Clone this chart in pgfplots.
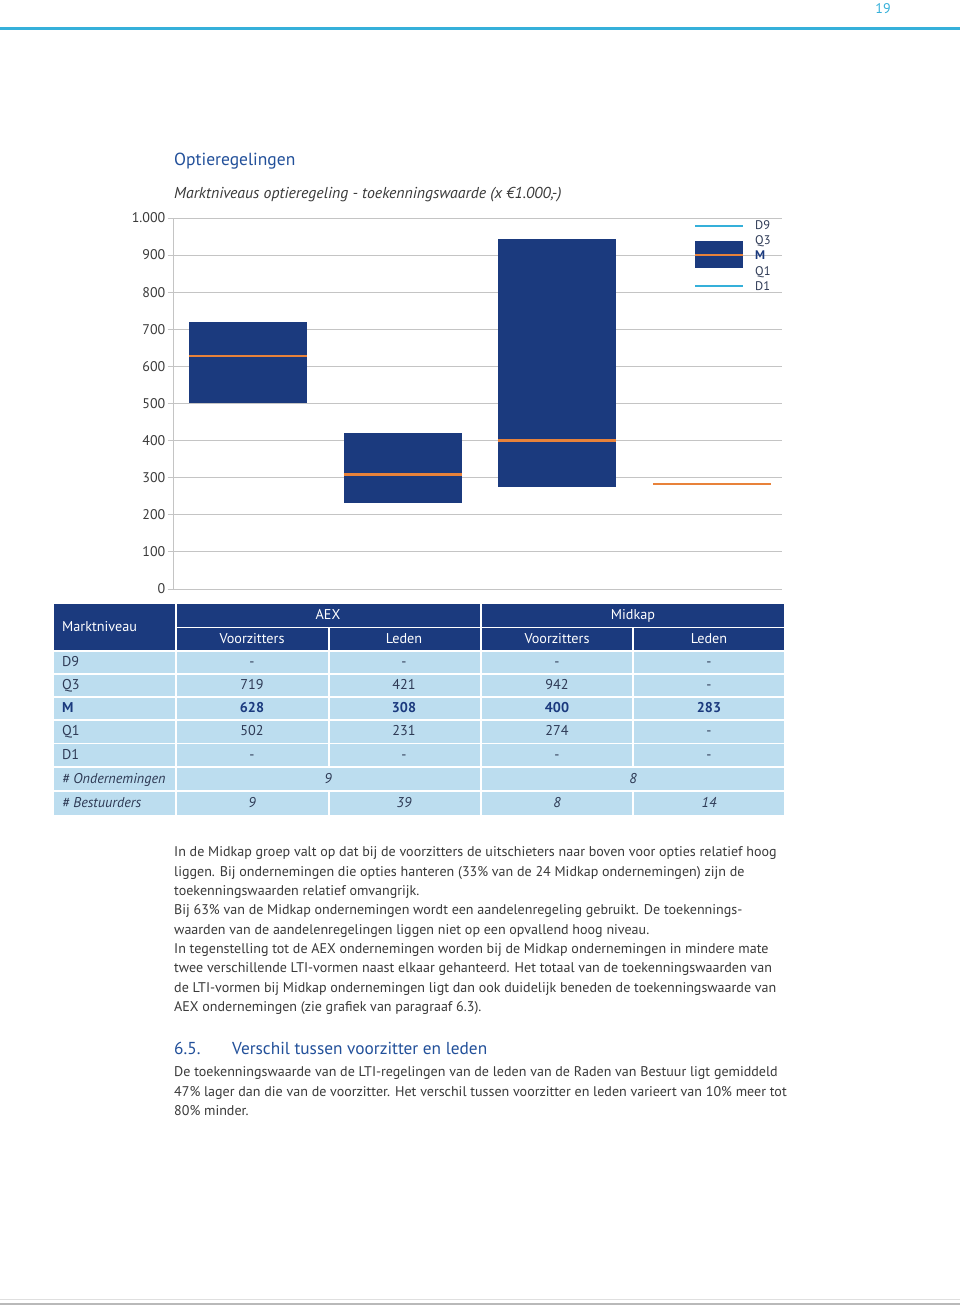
\documentclass[border=0pt]{standalone}
\usepackage{pgfplots}
\pgfplotsset{compat=1.18}
\usepgfplotslibrary{statistics}
\usepackage{fontspec}
\setmainfont{PT Sans}
\definecolor{navy}{HTML}{1B3A7E}
\definecolor{orng}{HTML}{E8823A}
\definecolor{cyanl}{HTML}{35B0DA}
\definecolor{lblue}{HTML}{BCDDEF}
\definecolor{titleblue}{HTML}{22509A}
\definecolor{txt}{HTML}{3A3A3A}
\definecolor{tbltxt}{HTML}{2E3A55}
\definecolor{gridc}{HTML}{C4C4C4}
\newcommand{\fs}[1]{\fontsize{#1bp}{#1bp}\selectfont}
\begin{document}
\begin{tikzpicture}[x=1bp,y=1bp]
\useasboundingbox (0,0) rectangle (960,1307);
\fill[white] (0,0) rectangle (960,1307);

\begin{axis}[
  at={(173.5bp,718bp)}, anchor=south west,
  width=608.5bp, height=371bp, scale only axis,
  xmin=-0.4817, xmax=3.452, ymin=0, ymax=1000,
  axis lines*=left,
  axis line style={gridc, line width=0.8bp, -},
  xtick=\empty,
  ytick={0,100,...,1000},
  ymajorgrids, grid style={gridc, line width=0.8bp},
  major tick length=6bp,
  tick style={gridc, line width=0.8bp},
  ytick pos=left, tick align=outside,
  yticklabel style={font=\fs{14}, text=txt, inner sep=0pt, xshift=-2bp},
  /pgf/number format/1000 sep={.},
  /pgf/number format/assume math mode=true,
  boxplot/draw direction=y,
  boxplot/whisker extend=0,
  boxplot/every box/.style={fill=navy, draw=none},
  boxplot/every median/.style={draw=orng, line width=2.8bp},
  boxplot/every whisker/.style={draw=none},
  clip=false,
]
\addplot[boxplot prepared={draw position=0, box extend=0.763,
  lower whisker=502, lower quartile=502, median=628,
  upper quartile=719, upper whisker=719}] coordinates {};
\addplot[boxplot prepared={draw position=1, box extend=0.763,
  lower whisker=231, lower quartile=231, median=308,
  upper quartile=421, upper whisker=421}] coordinates {};
\addplot[boxplot prepared={draw position=2, box extend=0.763,
  lower whisker=274, lower quartile=274, median=400,
  upper quartile=942, upper whisker=942}] coordinates {};
\addplot[boxplot prepared={draw position=3, box extend=0.763,
  lower whisker=283, lower quartile=283, median=283,
  upper quartile=283, upper whisker=283}] coordinates {};
\end{axis}

\begin{scope}[y=-1bp, yshift=1307bp]
% page decorations
\draw[cyanl, line width=2.5bp] (0,28.5) -- (960,28.5);
\node[text=cyanl, font=\fs{14}, anchor=base] at (883,14) {19};
\draw[gray!25, line width=0.8bp] (0,1299.5) -- (960,1299.5);
\draw[gray!55, line width=2bp] (0,1304) -- (960,1304);

% titles
\node[text=titleblue, font=\fs{17.5}, anchor=base west, inner sep=0pt] at (174,166) {Optieregelingen};
\node[text=txt, font=\fs{15.8}\itshape, anchor=base west, inner sep=0pt] at (174,199) {Marktniveaus optieregeling - toekenningswaarde (x €1.000,-)};

% legend
\draw[cyanl, line width=2.5bp] (695,226) -- (743,226);
\fill[navy] (695,241) rectangle (743,268);
\draw[orng, line width=2bp] (695,255) -- (743,255);
\draw[cyanl, line width=2.5bp] (695,286) -- (743,286);
\begin{scope}[every node/.style={anchor=base west, inner sep=0pt, font=\fs{12.5}, text=tbltxt}]
\node at (755,229.5) {D9};
\node at (755,244.5) {Q3};
\node[font=\fs{12.5}\bfseries, text=navy] at (755,260) {M};
\node at (755,275.5) {Q1};
\node at (755,291) {D1};
\end{scope}

% table
\fill[navy] (54,604) rectangle (784,651);
\fill[lblue] (54,651) rectangle (784,815);
\begin{scope}[white, line width=1.5bp]
\draw (176,627.5) -- (784,627.5);
\foreach \y in {651,674,697,720,743.5,767,791} \draw (54,\y) -- (784,\y);
\draw (176,604) -- (176,815);
\draw (481,604) -- (481,815);
\draw (329,627.5) -- (329,767); \draw (329,791) -- (329,815);
\draw (633,627.5) -- (633,767); \draw (633,791) -- (633,815);
\end{scope}
\begin{scope}[every node/.style={anchor=base, inner sep=0pt, font=\fs{14.2}, text=white}]
\node[anchor=base west] at (62,632) {Marktniveau};
\node at (328,620) {AEX};
\node at (633,620) {Midkap};
\node at (252,644) {Voorzitters};
\node at (404,644) {Leden};
\node at (557,644) {Voorzitters};
\node at (709,644) {Leden};
\end{scope}
\begin{scope}[every node/.style={anchor=base, inner sep=0pt, font=\fs{14.2}, text=tbltxt}]
\node[anchor=base west] at (62,667) {D9};
\node at (252,667) {-}; \node at (404,667) {-}; \node at (557,667) {-}; \node at (709,667) {-};
\node[anchor=base west] at (62,690) {Q3};
\node at (252,690) {719}; \node at (404,690) {421}; \node at (557,690) {942}; \node at (709,690) {-};
\node[anchor=base west, font=\fs{14.2}\bfseries, text=navy] at (62,713) {M};
\begin{scope}[every node/.append style={font=\fs{14.2}\bfseries, text=navy}]
\node at (252,713) {628}; \node at (404,713) {308}; \node at (557,713) {400}; \node at (709,713) {283};
\end{scope}
\node[anchor=base west] at (62,736) {Q1};
\node at (252,736) {502}; \node at (404,736) {231}; \node at (557,736) {274}; \node at (709,736) {-};
\node[anchor=base west] at (62,760) {D1};
\node at (252,760) {-}; \node at (404,760) {-}; \node at (557,760) {-}; \node at (709,760) {-};
\begin{scope}[every node/.append style={font=\fs{14.2}\itshape}]
\node[anchor=base west] at (62,784) {\# Ondernemingen};
\node at (328,784) {9}; \node at (633,784) {8};
\node[anchor=base west] at (62,808) {\# Bestuurders};
\node at (252,808) {9}; \node at (404,808) {39}; \node at (557,808) {8}; \node at (709,808) {14};
\end{scope}
\end{scope}

% body text
\begin{scope}[every node/.style={anchor=base west, inner sep=0pt, font=\fs{14.05}, text=txt}]
\node at (174,857) {In de Midkap groep valt op dat bij de voorzitters de uitschieters naar boven voor opties relatief hoog};
\node at (174,876.5) {liggen. Bij ondernemingen die opties hanteren (33\% van de 24 Midkap ondernemingen) zijn de};
\node at (174,896) {toekenningswaarden relatief omvangrijk.};
\node at (174,915) {Bij 63\% van de Midkap ondernemingen wordt een aandelenregeling gebruikt. De toekennings-};
\node at (174,934.5) {waarden van de aandelenregelingen liggen niet op een opvallend hoog niveau.};
\node at (174,954) {In tegenstelling tot de AEX ondernemingen worden bij de Midkap ondernemingen in mindere mate};
\node at (174,973) {twee verschillende LTI-vormen naast elkaar gehanteerd. Het totaal van de toekenningswaarden van};
\node at (174,993) {de LTI-vormen bij Midkap ondernemingen ligt dan ook duidelijk beneden de toekenningswaarde van};
\node at (174,1012) {AEX ondernemingen (zie grafiek van paragraaf 6.3).};
\node[font=\fs{17.3}, text=titleblue] at (174,1054.5) {6.5.};
\node[font=\fs{17.3}, text=titleblue] at (232,1054.5) {Verschil tussen voorzitter en leden};
\node at (174,1077) {De toekenningswaarde van de LTI-regelingen van de leden van de Raden van Bestuur ligt gemiddeld};
\node at (174,1096.5) {47\% lager dan die van de voorzitter. Het verschil tussen voorzitter en leden varieert van 10\% meer tot};
\node at (174,1116) {80\% minder.};
\end{scope}
\end{scope}
\end{tikzpicture}
\end{document}
